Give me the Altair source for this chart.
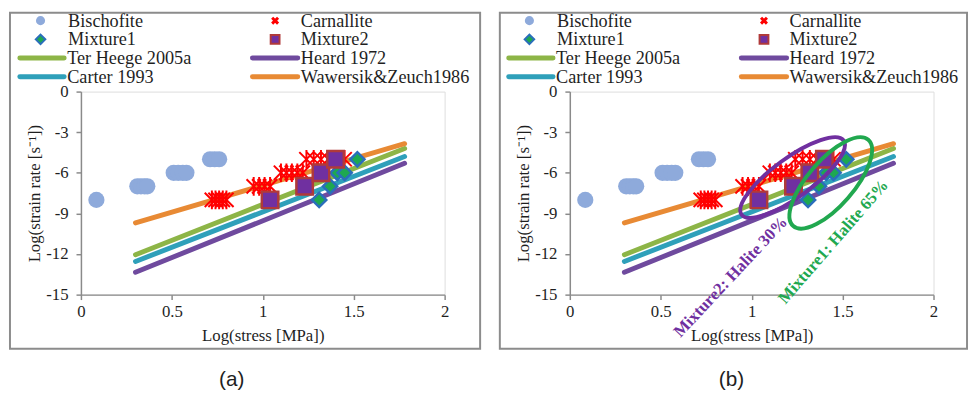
import altair as alt
import pandas as pd

# ---------------- data ----------------
bischofite_x = [0.085, 0.31, 0.33, 0.35, 0.365, 0.51, 0.535, 0.56, 0.58, 0.71, 0.735, 0.76]
bischofite_y = [-8, -7, -7, -7, -7, -6, -6, -6, -6, -5, -5, -5]

carnallite_x = [0.72, 0.74, 0.76, 0.78, 0.80, 0.95, 0.98, 1.01, 1.04, 1.10, 1.13, 1.16, 1.19, 1.22,
                1.24, 1.28, 1.32, 1.36, 1.41, 1.45]
carnallite_y = [-8, -8, -8, -8, -8, -7, -7, -7, -7, -6, -6, -6, -6, -6,
                -5, -5, -5, -5, -5, -5]

mixture1_x = [1.31, 1.37, 1.41, 1.45, 1.52]
mixture1_y = [-8, -7, -6, -6, -5]

mixture2_x = [1.04, 1.23, 1.32, 1.40]
mixture2_y = [-8, -7, -6, -5]

line_x = [0.30, 1.78]
ter_heege_y = [-12.05, -4.2]
heard_y = [-13.35, -5.3]
carter_y = [-12.55, -4.8]
wawersik_y = [-9.7, -3.85]

line_names = ["Ter Heege 2005a", "Heard 1972", "Carter 1993", "Wawersik&Zeuch1986"]
line_colors = ["#8DB547", "#6F4A9E", "#2FA0BA", "#E88A34"]

x_ticks = [0, 0.5, 1, 1.5, 2]
y_ticks = [-15, -12, -9, -6, -3, 0]

# annotations for panel (b)
ell_mix2_center = (1.225, -6.35)
ell_mix1_center = (1.435, -6.75)
txt_mix2 = ("Mixture2: Halite 30%", 0.885, -13.7)
txt_mix1 = ("Mixture1: Halite 65%", 1.45, -11.1)
panel_labels = ["(a)", "(b)"]

# ---------------- styling ----------------
SERIF = "Liberation Serif, Times New Roman, Times, serif"
SANS = "Liberation Sans, Arial, sans-serif"
AX = "#8A8A8A"
TXT = "#1f1f1f"
C_BIS = "#8EAADB"
C_CAR = "#FF0000"
C_M1F, C_M1S = "#1EA851", "#2A6EBB"
C_M2F, C_M2S = "#7030A0", "#B03A3A"
C_PURP = "#7030A0"
C_GREEN = "#21A84F"

STAR = "M-1,-1L1,1M-1,1L1,-1M0,-1.3L0,1.3"
XMARK = "M-1,-1L1,1M-1,1L1,-1"


def ellipse_path(b):
    k = 0.5523
    return (f"M-1,0C-1,{-b*k:.4f} {-k:.4f},{-b:.4f} 0,{-b:.4f}"
            f"C{k:.4f},{-b:.4f} 1,{-b*k:.4f} 1,0"
            f"C1,{b*k:.4f} {k:.4f},{b:.4f} 0,{b:.4f}"
            f"C{-k:.4f},{b:.4f} -1,{b*k:.4f} -1,0Z")


lines_df = pd.DataFrame({
    "x": line_x * 4,
    "y": ter_heege_y + heard_y + carter_y + wawersik_y,
    "model": [n for n in line_names for _ in line_x],
})
bis_df = pd.DataFrame({"x": bischofite_x, "y": bischofite_y})
car_df = pd.DataFrame({"x": carnallite_x, "y": carnallite_y})
m1_df = pd.DataFrame({"x": mixture1_x, "y": mixture1_y})
m2_df = pd.DataFrame({"x": mixture2_x, "y": mixture2_y})
one = pd.DataFrame({"k": [0]})

X = alt.X("x:Q", scale=alt.Scale(domain=[0, 2], nice=False, zero=False),
          axis=alt.Axis(values=x_ticks, labelExpr="'' + datum.value", title="Log(stress [MPa])",
                        grid=False, domainColor=AX, domainWidth=1.5, tickColor=AX, tickWidth=1.5,
                        tickSize=5, labelFont=SERIF, labelFontSize=17, labelColor=TXT,
                        labelPadding=4, labelFlush=False, titleFont=SERIF, titleFontSize=17,
                        titleFontWeight="normal", titleColor=TXT, titlePadding=9))
Y = alt.Y("y:Q", scale=alt.Scale(domain=[-15, 0], nice=False, zero=False),
          axis=alt.Axis(values=y_ticks, labelExpr="'' + datum.value", title="Log(strain rate [s⁻¹])",
                        grid=False, domainColor=AX, domainWidth=1.5, tickColor=AX, tickWidth=1.5,
                        tickSize=5, labelFont=SERIF, labelFontSize=17, labelColor=TXT,
                        labelPadding=8, labelFlush=False, titleFont=SERIF, titleFontSize=17,
                        titleFontWeight="normal", titleColor=TXT, titlePadding=2))


def legend_layers():
    layers = []
    rows = [-72, -53, -34, -15]
    c1s, c1t, c2s, c2t = -41, -13, 197, 223
    l1a, l1b, l2a, l2b = -62, -17, 174, 220

    def sym(px, py, **kw):
        return alt.Chart(one).mark_point(opacity=1, **kw).encode(x=alt.value(px), y=alt.value(py))

    def txt(px, py, s):
        return alt.Chart(one).mark_text(text=s, align="left", baseline="middle", font=SERIF,
                                        fontSize=18.5, color=TXT).encode(x=alt.value(px), y=alt.value(py))

    def seg(xa, xb, py, col):
        return alt.Chart(one).mark_rule(strokeWidth=5, strokeCap="round", color=col).encode(
            x=alt.value(xa), x2=alt.value(xb), y=alt.value(py))

    layers.append(sym(c1s, rows[0], shape="circle", size=85, filled=True, fill=C_BIS, strokeWidth=0))
    layers.append(txt(c1t, rows[0], "Bischofite"))
    layers.append(sym(c2s, rows[0], shape=XMARK, size=36, filled=False, stroke=C_CAR, strokeWidth=3))
    layers.append(txt(c2t, rows[0], "Carnallite"))
    layers.append(sym(c1s, rows[1], shape="diamond", size=95, filled=True, fill=C_M1F, stroke=C_M1S, strokeWidth=2))
    layers.append(txt(c1t, rows[1], "Mixture1"))
    layers.append(sym(c2s, rows[1], shape="square", size=80, filled=True, fill=C_M2F, stroke=C_M2S, strokeWidth=2))
    layers.append(txt(c2t, rows[1], "Mixture2"))
    layers.append(seg(l1a, l1b, rows[2], line_colors[0]))
    layers.append(txt(l1b + 3, rows[2], line_names[0]))
    layers.append(seg(l2a, l2b, rows[2], line_colors[1]))
    layers.append(txt(l2b + 3, rows[2], line_names[1]))
    layers.append(seg(l1a, l1b, rows[3], line_colors[2]))
    layers.append(txt(l1b + 3, rows[3], line_names[2]))
    layers.append(seg(l2a, l2b, rows[3], line_colors[3]))
    layers.append(txt(l2b + 3, rows[3], line_names[3]))
    return layers


def panel(label, label_x, box, annotated):
    bx0, bx1 = box
    frame = alt.Chart(one).mark_rect(fill="transparent", stroke="#8C8C8C", strokeWidth=2).encode(
        x=alt.value(bx0), x2=alt.value(bx1), y=alt.value(-80), y2=alt.value(261))
    lines = alt.Chart(lines_df).mark_line(strokeWidth=5, strokeCap="round").encode(
        x=X, y=Y,
        color=alt.Color("model:N", scale=alt.Scale(domain=line_names, range=line_colors), legend=None))
    bis = alt.Chart(bis_df).mark_point(shape="circle", filled=True, size=270, fill=C_BIS,
                                       strokeWidth=0, opacity=1).encode(x=X, y=Y)
    car = alt.Chart(car_df).mark_point(shape=STAR, filled=False, size=210, stroke=C_CAR,
                                       strokeWidth=2, opacity=1).encode(x=X, y=Y)
    m1 = alt.Chart(m1_df).mark_point(shape="diamond", filled=True, size=210, fill=C_M1F,
                                     stroke=C_M1S, strokeWidth=2.5, opacity=1).encode(x=X, y=Y)
    m2 = alt.Chart(m2_df).mark_point(shape="square", filled=True, size=280, fill=C_M2F,
                                     stroke=C_M2S, strokeWidth=2.5, opacity=1).encode(x=X, y=Y)
    cap = alt.Chart(one).mark_text(text=label, font=SANS, fontSize=21, color=TXT,
                                   align="center", baseline="middle").encode(
        x=alt.value(label_x), y=alt.value(293))
    layers = [frame, lines, bis, car, m1, m2]
    if annotated:
        e2 = alt.Chart(pd.DataFrame({"x": [ell_mix2_center[0]], "y": [ell_mix2_center[1]]})).mark_point(
            shape=ellipse_path(0.31), size=16384, filled=False, stroke=C_PURP, strokeWidth=4,
            opacity=1, angle=324).encode(x=X, y=Y)
        e1 = alt.Chart(pd.DataFrame({"x": [ell_mix1_center[0]], "y": [ell_mix1_center[1]]})).mark_point(
            shape=ellipse_path(0.40), size=13456, filled=False, stroke=C_GREEN, strokeWidth=4,
            opacity=1, angle=311).encode(x=X, y=Y)
        t2 = alt.Chart(pd.DataFrame({"x": [txt_mix2[1]], "y": [txt_mix2[2]]})).mark_text(
            text=txt_mix2[0], angle=313, font=SERIF, fontSize=17, fontWeight="bold", color=C_PURP,
            align="center", baseline="middle").encode(x=X, y=Y)
        t1 = alt.Chart(pd.DataFrame({"x": [txt_mix1[1]], "y": [txt_mix1[2]]})).mark_text(
            text=txt_mix1[0], angle=311, font=SERIF, fontSize=17, fontWeight="bold", color=C_GREEN,
            align="center", baseline="middle").encode(x=X, y=Y)
        layers += [e2, e1, t2, t1]
    layers += legend_layers() + [cap]
    return alt.layer(*layers).properties(width=369, height=206)


left = panel(panel_labels[0], 153, (-72, 405), False)
right = panel(panel_labels[1], 164, (-71, 403), True)

chart = alt.hconcat(left, right, spacing=16).properties(
    padding={"left": 0, "top": 0, "right": 0, "bottom": 0}
).configure_view(stroke=None).configure(background="white")

chart.save("out.html", embed_options={"renderer": "svg", "actions": False})
